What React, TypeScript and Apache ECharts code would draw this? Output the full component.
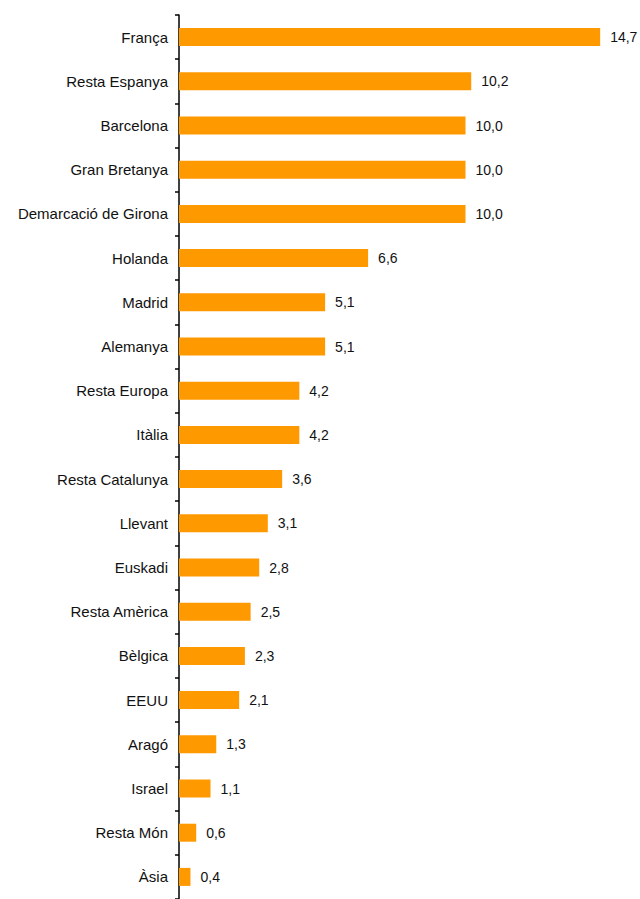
import React, { useEffect, useRef } from "react";
import * as echarts from "echarts";

const categories = [
  "França",
  "Resta Espanya",
  "Barcelona",
  "Gran Bretanya",
  "Demarcació de Girona",
  "Holanda",
  "Madrid",
  "Alemanya",
  "Resta Europa",
  "Itàlia",
  "Resta Catalunya",
  "Llevant",
  "Euskadi",
  "Resta Amèrica",
  "Bèlgica",
  "EEUU",
  "Aragó",
  "Israel",
  "Resta Món",
  "Àsia",
];

const values = [14.7, 10.2, 10.0, 10.0, 10.0, 6.6, 5.1, 5.1, 4.2, 4.2, 3.6, 3.1, 2.8, 2.5, 2.3, 2.1, 1.3, 1.1, 0.6, 0.4];

export default function App() {
  const ref = useRef<HTMLDivElement>(null);
  useEffect(() => {
    if (!ref.current) return;
    const chart = echarts.init(ref.current, undefined, { renderer: "svg" });
    const font = "Arial, 'Liberation Sans', sans-serif";
    chart.setOption({
      animation: false,
      backgroundColor: "#ffffff",
      grid: { left: 179, top: 15, width: 16 * 28.65, height: 890, containLabel: false },
      xAxis: {
        type: "value",
        min: 0,
        max: 16,
        show: false,
      },
      yAxis: {
        type: "category",
        data: categories,
        inverse: true,
        axisLine: { show: true, lineStyle: { color: "#000000", width: 1.5 } },
        axisTick: { show: true, length: 4, lineStyle: { color: "#000000", width: 1.5 } },
        axisLabel: {
          margin: 11,
          color: "#111111",
          fontSize: 15,
          fontFamily: font,
        },
        splitLine: { show: false },
      },
      series: [
        {
          type: "bar",
          data: values,
          barWidth: 18,
          itemStyle: { color: "#FF9900" },
          label: {
            show: true,
            position: "right",
            distance: 10,
            color: "#111111",
            fontSize: 14,
            fontFamily: font,
            formatter: (p: any) => p.value.toFixed(1).replace(".", ","),
          },
        },
      ],
    });
    return () => chart.dispose();
  }, []);
  return (
    <div
      ref={ref}
      style={{ position: "absolute", left: 0, top: 0, width: 640, height: 899 }}
    />
  );
}
